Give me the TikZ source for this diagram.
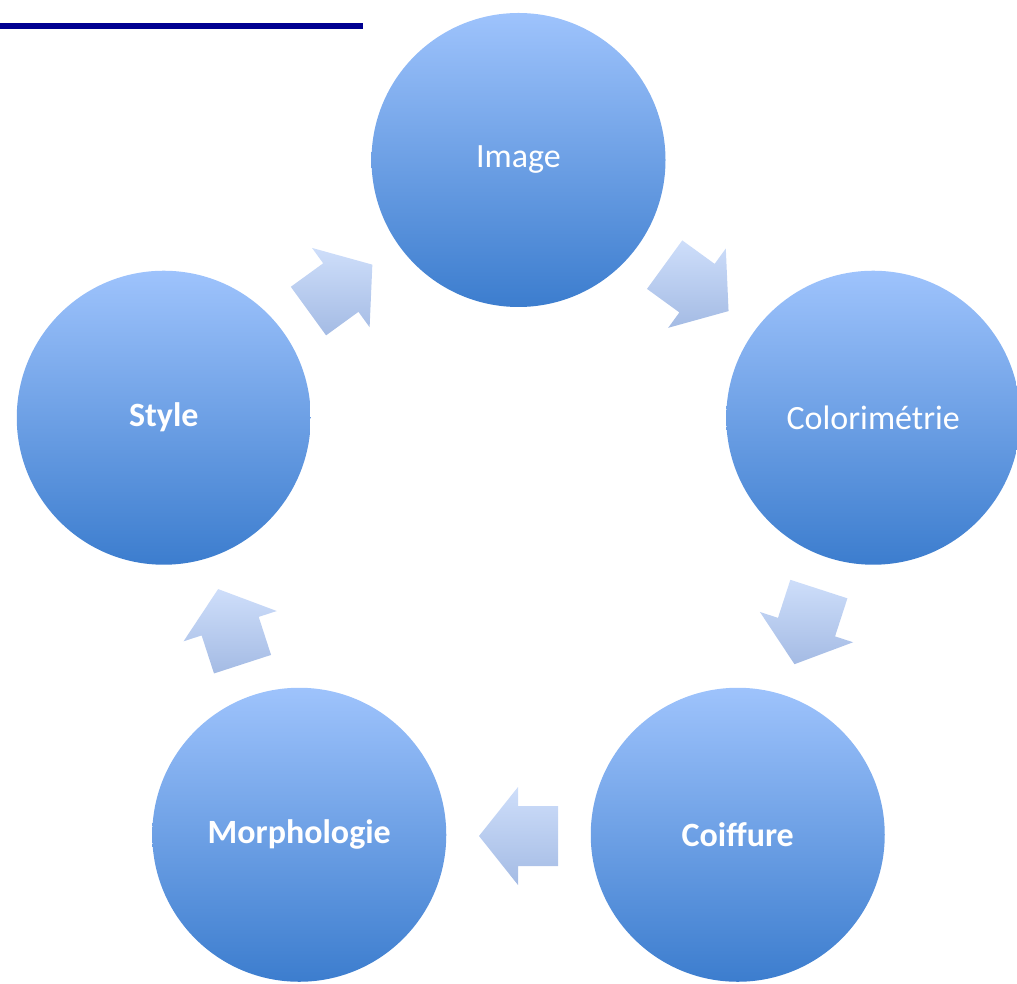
\documentclass[tikz,border=0pt]{standalone}
\usepackage{fontspec}
\setmainfont{Carlito}
\usetikzlibrary{calc}
\definecolor{circtop}{RGB}{158,195,252}
\definecolor{circbot}{RGB}{60,125,206}
\definecolor{arrtop}{RGB}{206,222,250}
\definecolor{arrbot}{RGB}{164,187,228}
\definecolor{navyline}{RGB}{0,0,145}
\tikzset{
  cyclenode/.style={circle, minimum size=294pt, inner sep=0pt, draw=none,
    top color=circtop, bottom color=circbot, text=white,
    font=\fontsize{34}{40}\selectfont},
  cyclearrow/.style={draw=none, top color=arrtop, bottom color=arrbot}
}
\newcommand\blockarrow[3]{%
  \coordinate (#1) at ($(c)+(#2:303)$);
  \path[cyclearrow]
    ($(#1)+(#3:-39.5)+(#3+90:30)$) -- ($(#1)+(#3:0.5)+(#3+90:30)$) --
    ($(#1)+(#3:0.5)+(#3+90:49)$) -- ($(#1)+(#3:39.5)$) --
    ($(#1)+(#3:0.5)+(#3-90:49)$) -- ($(#1)+(#3:0.5)+(#3-90:30)$) --
    ($(#1)+(#3:-39.5)+(#3-90:30)$) -- cycle;}
\begin{document}
\begin{tikzpicture}[x=1pt,y=1pt]
\useasboundingbox (0,0) rectangle (1017,983);
\draw[navyline, line width=6pt] (0,957) -- (363,957);
\coordinate (c) at (518.5,450);
\node[cyclenode] (image) at ($(c)+(90:373)$) {Image};
\node[cyclenode] (color) at ($(c)+(18:373)$) {Colorimétrie};
\node[cyclenode] (coif) at ($(c)+(-54:373)$) {\bfseries Coiffure};
\node[cyclenode] (morph) at ($(c)+(-126:373)$) {\bfseries Morphologie};
\node[cyclenode] (style) at ($(c)+(162:373)$) {\bfseries Style};
\blockarrow{a1}{126}{36}
\blockarrow{a2}{54}{-36}
\blockarrow{a3}{-18}{-108}
\blockarrow{a4}{-90}{180}
\blockarrow{a5}{198}{108}
\end{tikzpicture}
\end{document}
